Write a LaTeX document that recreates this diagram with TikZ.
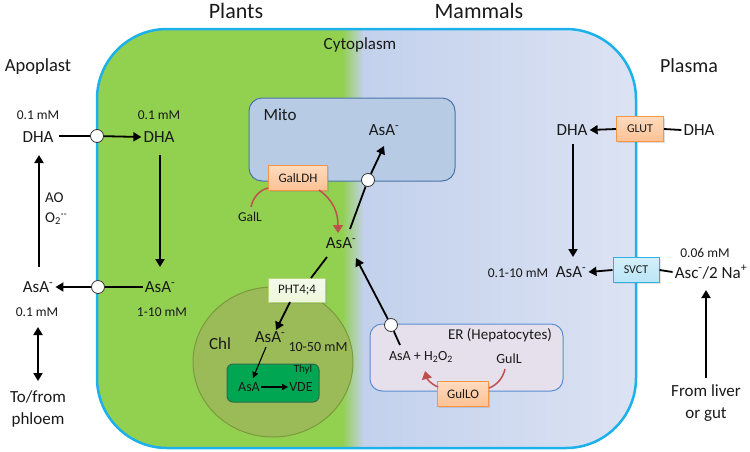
\documentclass[tikz,border=0pt]{standalone}
\usepackage{fontspec}
\setmainfont{Carlito}
\usetikzlibrary{arrows.meta,shadows}
\definecolor{cellgreen}{HTML}{92D050}
\definecolor{cellblueA}{HTML}{C3D1EC}
\definecolor{cellblueB}{HTML}{DCE3F3}
\definecolor{cellborder}{HTML}{1DB1EC}
\definecolor{mitofill}{HTML}{B7CBE5}
\definecolor{mitoborder}{HTML}{4A74A8}
\definecolor{chlfill}{HTML}{9BBB59}
\definecolor{chlborder}{HTML}{7B9A3C}
\definecolor{thylfill}{HTML}{00A651}
\definecolor{thylborder}{HTML}{2D6B4A}
\definecolor{erfill}{HTML}{E6E0EC}
\definecolor{erborder}{HTML}{5B8ED2}
\definecolor{orfill}{HTML}{FDC293}
\definecolor{orborder}{HTML}{F79646}
\definecolor{phtfill}{HTML}{EEF7DC}
\definecolor{phtborder}{HTML}{B5D77A}
\definecolor{svctfill}{HTML}{B9E5F6}
\definecolor{svctborder}{HTML}{2FB2E2}
\definecolor{redc}{HTML}{C0504D}
\definecolor{txt}{HTML}{1A1A1A}
\newcommand\minus{\textsuperscript{-}}
\begin{document}
\begin{tikzpicture}[x=1pt,y=-1pt,
  title/.style={font=\fontsize{22}{26}\selectfont, text=txt, inner sep=1},
  big/.style={font=\fontsize{17}{22}\selectfont, text=txt, inner sep=2},
  mid/.style={font=\fontsize{14}{17}\selectfont, text=txt, inner sep=1},
  small/.style={font=\fontsize{13.5}{16}\selectfont, text=txt, inner sep=1},
  arr/.style={-{Triangle[length=8,width=9]}, line width=1.8},
  darr/.style={{Triangle[length=8,width=9]}-{Triangle[length=8,width=9]}, line width=1.8},
  thin arr/.style={-{Triangle[length=6,width=6]}, line width=1.1},
  ln/.style={line width=1.8},
  pore/.style={circle, draw=black!80, fill=white, line width=0.8, minimum size=13, inner sep=0},
  enz/.style={draw=orborder, top color=orfill!60, bottom color=orfill, line width=1, minimum height=25, inner sep=0, font=\fontsize{13}{15}\selectfont, text=txt, drop shadow={opacity=0.25, shadow xshift=1.5pt, shadow yshift=-1.5pt}},
  redarr/.style={draw=redc, line width=1.5, -{Triangle[length=8,width=10]}},
  redln/.style={draw=redc, line width=1.5}
]
\useasboundingbox (0,0) rectangle (750,451);
% cell
\begin{scope}
  \clip[rounded corners=70] (97,29) rectangle (636,448);
  \fill[cellgreen] (90,20) rectangle (343,455);
  \shade[left color=cellgreen, right color=cellblueA] (342,20) rectangle (364,455);
  \shade[left color=cellblueA, right color=cellblueB] (363,20) rectangle (640,455);
\end{scope}
\draw[cellborder, line width=2.5, rounded corners=70] (97,29) rectangle (636,448);

% titles
\node[title] (plants) at (236,11) {Plants};
\node[title] (mammals) at (479,11) {Mammals};
\node[mid, font=\fontsize{17}{20}\selectfont] (cyto) at (360,45) {Cytoplasm};
\node[title, font=\fontsize{18.5}{22}\selectfont] (apo) at (38,67) {Apoplast};
\node[title, font=\fontsize{20}{22}\selectfont] (plasma) at (689,66) {Plasma};

% mito
\draw[fill=mitofill, draw=mitoborder, line width=1, rounded corners=13] (249,98) rectangle (455,181);
\node[big] (mito) at (280,115) {Mito};
\node[big] (asaM) at (384,130) {AsA\minus};

% chloroplast
\draw[fill=chlfill, draw=chlborder, line width=1] (273,362) ellipse [x radius=80, y radius=75];
\node[big] (chl) at (220,344) {Chl};
\node[big] (asaC) at (270,337) {AsA\minus};
\node[mid] (c1050) at (318,347) {10-50 mM};
\draw[fill=thylfill, draw=thylborder, line width=1, rounded corners=6] (227,364) rectangle (319,402);
\node[small, font=\fontsize{11}{13}\selectfont] (thyl) at (303,370) {Thyl};
\node[mid] (asaT) at (249,387) {AsA};
\node[mid] (vde) at (301,387) {VDE};
\draw[thin arr] (asaT) -- (vde);
\coordinate (cA) at (266,347);
\coordinate (cB) at (253,378);
\draw[thin arr] (cA) -- (cB);

% ER
\draw[fill=erfill, draw=erborder, line width=1, rounded corners=12] (370,324) rectangle (563,391);
\node[mid, font=\fontsize{15}{18}\selectfont] (er) at (500,335) {ER (Hepatocytes)};
\node[mid] (asah2o2) at (421,357) {AsA + H\textsubscript{2}O\textsubscript{2}};
\node[mid] (gull) at (509,359) {GulL};

% central AsA
\node[big] (asaCen) at (341,243) {AsA\minus};

% Mito transport
\coordinate (m0) at (350,229);
\node[pore] (pM) at (368,180) {};
\coordinate (m1) at (384,146);
\draw[ln] (m0) -- (pM);
\draw[arr] (pM) -- (m1);

% GalLDH
\node[enz, minimum width=59] (galldh) at (298,178) {GalLDH};
\node[small] (gall) at (250,217) {GalL};
\coordinate (g0) at (251,207);
\coordinate (g1) at (268,188);
\draw[redln] (g0) .. controls (253,197) and (260,190) .. (g1);
\coordinate (g2) at (319,190);
\coordinate (g3) at (338,233);
\draw[redarr] (g2) .. controls (333,200) and (338,212) .. (g3);

% PHT4;4
\coordinate (p0) at (327,257);
\node[draw=phtborder, top color=phtfill!60, bottom color=phtfill, line width=1, minimum width=57, minimum height=24, inner sep=0, font=\fontsize{13}{15}\selectfont, text=txt, drop shadow={opacity=0.2, shadow xshift=1.5pt, shadow yshift=-1.5pt}] (pht) at (297,290) {PHT4;4};
\coordinate (p1) at (276,330);
\draw[ln] (p0) -- (311,278);
\draw[arr] (290,302) -- (p1);

% ER transport
\coordinate (e0) at (400,345);
\node[pore] (pE) at (391,325) {};
\coordinate (e1) at (356,258);
\draw[ln] (e0) -- (pE);
\draw[arr] (pE) -- (e1);

% GulLO
\node[enz, minimum width=51] (gullo) at (463,394) {GulLO};
\coordinate (u0) at (505,369);
\coordinate (u1) at (489,388);
\draw[redln] (u0) .. controls (503,378) and (497,385) .. (u1);
\coordinate (u2) at (438,387);
\coordinate (u3) at (425,371);
\draw[redarr] (u2) .. controls (431,384) and (427,379) .. (u3);

% left apoplast
\node[small] (dhaLc) at (38,115) {0.1 mM};
\node[big] (dhaL) at (38,137) {DHA};
\node[pore] (pDHA) at (97,136) {};
\node[small] (dhaRc) at (159,115) {0.1 mM};
\node[big] (dhaR) at (159,137) {DHA};
\draw[ln] (dhaL.east) ++(3,-1) coordinate (dl) (dl) -- (pDHA);
\draw[arr] (pDHA) -- (dhaR.west);
\coordinate (d0) at (160,155);
\coordinate (d1) at (160,267);
\draw[arr] (d0) -- (d1);
\node[big] (asaR) at (160,287) {AsA\minus};
\node[small] (asaRc) at (162,312) {1-10 mM};
\node[pore] (pASA) at (98,287) {};
\node[big] (asaL) at (38,287) {AsA\minus};
\node[small] (asaLc) at (37,312) {0.1 mM};
\draw[ln] (asaR.west) -- (pASA);
\draw[arr] (pASA) -- (asaL.east);
\coordinate (a0) at (39,267);
\coordinate (a1) at (39,155);
\draw[arr] (a0) -- (a1);
\node[mid, font=\fontsize{15}{18}\selectfont, anchor=west] (ao) at (44,198) {AO};
\node[mid, font=\fontsize{15}{18}\selectfont, anchor=west] (o2) at (44,219) {O\textsubscript{2}\textsuperscript{·-}};
\coordinate (f0) at (38,327);
\coordinate (f1) at (38,381);
\draw[darr] (f0) -- (f1);
\node[big, align=center] (phloem) at (38,409) {To/from\\phloem};

% right plasma
\node[big] (dhaP) at (572,130) {DHA};
\node[enz, minimum width=47, font=\fontsize{12}{14}\selectfont] (glut) at (640,129) {GLUT};
\node[big] (dhaO) at (699,130) {DHA};
\draw[ln] (dhaO.west) -- (glut.east);
\draw[arr] (glut.west) -- (dhaP.east);
\coordinate (r0) at (573,144);
\coordinate (r1) at (573,257);
\draw[arr] (r0) -- (r1);
\node[big] (asaP) at (571,272) {AsA\minus};
\node[small] (asaPc) at (518,273) {0.1-10 mM};
\node[draw=svctborder, top color=svctfill!60, bottom color=svctfill, line width=1, minimum width=46, minimum height=25, inner sep=0, font=\fontsize{12}{14}\selectfont, text=txt, drop shadow={opacity=0.2, shadow xshift=1.5pt, shadow yshift=-1.5pt}] (svct) at (636,270) {SVCT};
\node[big] (asc) at (711,272) {Asc\minus/2 Na\textsuperscript{+}};
\node[small] (ascc) at (705,253) {0.06 mM};
\draw[ln] (asc.west) -- (svct.east);
\draw[arr] (svct.west) -- (asaP.east);
\coordinate (l0) at (706,378);
\coordinate (l1) at (706,290);
\draw[arr] (l0) -- (l1);
\node[big, align=center] (liver) at (706,403) {From liver\\or gut};
\end{tikzpicture}
\end{document}
